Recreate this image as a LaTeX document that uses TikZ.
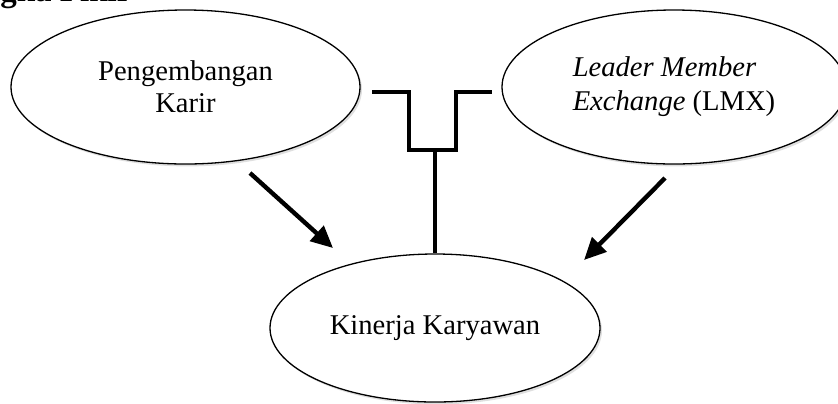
\documentclass[tikz,border=0pt]{standalone}
\usepackage{fontspec}
\setmainfont{Liberation Serif}
\usetikzlibrary{shapes.geometric,arrows.meta,shadows}

\begin{document}
\begin{tikzpicture}[x=0.5pt,y=-0.5pt]

\tikzset{
  var node/.style={
    ellipse,
    draw,
    fill=white,
    line width=0.65pt,
    inner sep=0pt,
    align=center,
    font=\fontsize{14.3}{16}\selectfont,
    drop shadow={opacity=0.25,shadow xshift=1pt,shadow yshift=-1.2pt},
  },
  effect/.style={
    line width=2.2pt,
    -{Triangle[length=11pt,width=10pt]},
  },
  bracket/.style={
    line width=2.2pt,
  }
}

\useasboundingbox (0,0) rectangle (838,403);

% Heading (cut at the top)
\node[anchor=base west,inner sep=0pt,font=\fontsize{16.5}{18}\selectfont\bfseries] (ttl) at (0,1) {gka Pikir};

% Variables
\node[var node,minimum width=174.5pt,minimum height=77pt] (pk) at (185.5,87) {Pengembangan\\Karir};
\node[var node,minimum width=172pt,minimum height=77pt,align=left,font=\fontsize{14.3}{17}\selectfont] (lmx) at (674,87) {\textit{Leader Member}\\\textit{Exchange} (LMX)};
\node[var node,minimum width=165pt,minimum height=74pt] (kin) at (435,328) {Kinerja Karyawan};

% Arrow ends
\coordinate (pkout) at (250,173);
\coordinate (pkin) at (333,248);
\coordinate (lmxout) at (665,178);
\coordinate (lmxin) at (584,260);

% Bracket ends
\coordinate (brl) at (372,92);
\coordinate (brr) at (492,92);
\coordinate (mid) at (435,150);

% Arrows
\draw[effect] (pkout) -- (pkin);
\draw[effect] (lmxout) -- (lmxin);

% Joint effect
\draw[bracket] (brl) -- (409,92) -- (409,150) -- (456,150) -- (456,92) -- (brr);
\draw[bracket] (mid) -- (kin.north);

\end{tikzpicture}
\end{document}
